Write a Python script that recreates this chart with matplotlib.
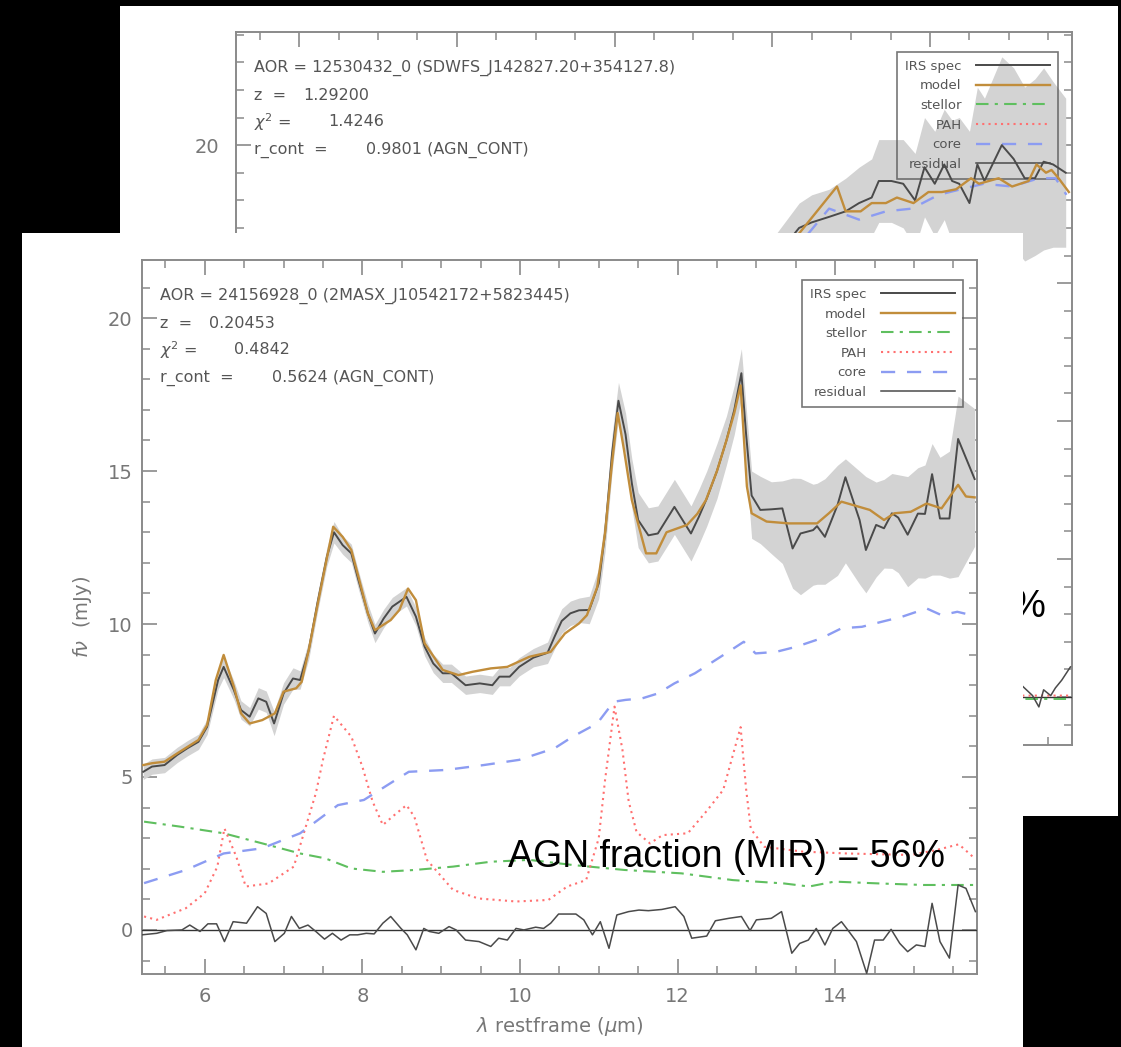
import matplotlib
matplotlib.use('Agg')
import matplotlib.pyplot as plt
from matplotlib.patches import Rectangle
from matplotlib.ticker import MultipleLocator, FuncFormatter, NullFormatter

W, H = 1121, 1047

# ---------------- front panel data ----------------
front_spec_x = [5.22, 5.33, 5.49, 5.65, 5.78, 5.92, 6.03, 6.17, 6.24, 6.37, 6.46, 6.57, 6.68, 6.78,
                6.88, 7.00, 7.12, 7.21, 7.32, 7.43, 7.55, 7.64, 7.75, 7.86, 7.95, 8.07, 8.16, 8.27,
                8.38, 8.56, 8.68, 8.79, 8.90, 9.02, 9.13, 9.31, 9.49, 9.65, 9.74, 9.87, 9.99, 10.17,
                10.35, 10.44, 10.53, 10.64, 10.75, 10.88, 11.00, 11.08, 11.17, 11.25, 11.34, 11.42,
                11.50, 11.63, 11.75, 11.96, 12.17, 12.27, 12.37, 12.50, 12.62, 12.72, 12.81, 12.87,
                12.94, 13.05, 13.19, 13.33, 13.46, 13.56, 13.72, 13.77, 13.87, 14.03, 14.13, 14.31,
                14.39, 14.52, 14.62, 14.72, 14.80, 14.92, 15.05, 15.14, 15.23, 15.33, 15.45, 15.56,
                15.77]
front_spec_y = [5.17, 5.34, 5.39, 5.72, 5.94, 6.15, 6.64, 8.17, 8.60, 7.84, 7.19, 6.97, 7.57, 7.46,
                6.75, 7.73, 8.22, 8.17, 9.15, 10.68, 12.20, 13.00, 12.58, 12.31, 11.44, 10.35, 9.69,
                10.18, 10.57, 10.89, 10.24, 9.26, 8.71, 8.39, 8.39, 8.00, 8.06, 8.00, 8.28, 8.28,
                8.60, 8.90, 9.06, 9.59, 10.10, 10.35, 10.45, 10.46, 11.33, 12.97, 15.60, 17.30,
                16.20, 14.60, 13.40, 12.90, 12.96, 13.83, 12.96, 13.50, 14.10, 15.00, 16.00, 17.00,
                18.20, 16.20, 14.20, 13.73, 13.75, 13.78, 12.47, 12.96, 13.07, 13.20, 12.85, 13.89,
                14.80, 13.40, 12.42, 13.24, 13.13, 13.62, 13.48, 12.92, 13.61, 13.60, 14.90, 13.45,
                13.45, 16.05, 14.74]
# uncertainty band: distance below / above the spectrum
front_err_lo = [0.25, 0.25, 0.25, 0.25, 0.25, 0.25, 0.25, 0.30, 0.35, 0.30, 0.30, 0.30, 0.35, 0.35,
                0.40, 0.35, 0.35, 0.30, 0.30, 0.30, 0.30, 0.35, 0.30, 0.30, 0.30, 0.30, 0.30, 0.30,
                0.30, 0.30, 0.30, 0.30, 0.30, 0.30, 0.30, 0.30, 0.30, 0.30, 0.30, 0.30, 0.30, 0.30,
                0.35, 0.40, 0.40, 0.40, 0.40, 0.45, 0.50, 0.60, 0.60, 0.60, 0.70, 0.80, 0.90, 0.90,
                0.90, 0.90, 0.90, 0.90, 0.90, 0.90, 0.80, 0.80, 0.80, 1.00, 1.40, 1.10, 1.45, 1.80,
                1.30, 2.00, 1.80, 1.90, 1.55, 2.30, 2.80, 2.10, 1.40, 1.70, 1.30, 1.80, 1.80, 1.70,
                2.10, 2.10, 3.30, 1.85, 1.95, 4.50, 2.20]
front_err_hi = [0.25, 0.25, 0.25, 0.25, 0.25, 0.25, 0.25, 0.30, 0.35, 0.30, 0.30, 0.30, 0.35, 0.35,
                0.40, 0.35, 0.35, 0.30, 0.30, 0.30, 0.30, 0.35, 0.30, 0.30, 0.30, 0.30, 0.30, 0.30,
                0.30, 0.30, 0.30, 0.30, 0.30, 0.30, 0.30, 0.30, 0.30, 0.30, 0.30, 0.30, 0.30, 0.30,
                0.35, 0.40, 0.40, 0.40, 0.40, 0.45, 0.50, 0.60, 0.60, 0.60, 0.70, 0.80, 0.90, 0.90,
                0.90, 0.90, 0.90, 0.90, 0.90, 0.90, 0.80, 0.80, 0.80, 0.90, 0.80, 1.10, 0.90, 0.90,
                2.30, 1.80, 1.50, 1.40, 1.90, 1.30, 0.60, 1.60, 2.40, 1.40, 1.60, 1.30, 1.40, 1.90,
                1.50, 1.60, 1.00, 2.00, 2.20, 1.40, 2.30]

front_model_x = [5.22, 5.33, 5.49, 5.65, 5.92, 6.03, 6.14, 6.24, 6.37, 6.46, 6.57, 6.73, 6.89, 7.00,
                 7.16, 7.23, 7.32, 7.46, 7.63, 7.75, 7.86, 7.95, 8.07, 8.16, 8.36, 8.47, 8.58, 8.68,
                 8.79, 9.02, 9.22, 9.40, 9.63, 9.84, 10.12, 10.39, 10.57, 10.75, 10.85, 10.98, 11.08,
                 11.17, 11.24, 11.32, 11.42, 11.60, 11.73, 11.86, 12.12, 12.25, 12.36, 12.50, 12.62,
                 12.72, 12.80, 12.88, 12.94, 13.13, 13.41, 13.77, 13.92, 14.08, 14.44, 14.62, 14.75,
                 14.96, 15.16, 15.35, 15.56, 15.66, 15.77]
front_model_y = [5.39, 5.45, 5.50, 5.77, 6.21, 6.70, 8.17, 8.99, 7.95, 7.08, 6.75, 6.86, 7.08, 7.79,
                 7.90, 8.11, 9.15, 11.00, 13.18, 12.85, 12.42, 11.55, 10.35, 9.80, 10.13, 10.46, 11.16,
                 10.78, 9.37, 8.50, 8.33, 8.44, 8.55, 8.60, 8.93, 9.09, 9.69, 10.02, 10.29, 11.20,
                 12.97, 15.30, 16.90, 15.70, 14.05, 12.31, 12.31, 13.00, 13.24, 13.60, 14.05, 15.00,
                 16.00, 16.90, 17.80, 14.50, 13.62, 13.35, 13.29, 13.29, 13.62, 14.00, 13.73, 13.40,
                 13.62, 13.67, 13.94, 13.78, 14.55, 14.17, 14.14]

front_stellar_x = [5.23, 5.68, 6.24, 6.73, 7.21, 7.53, 7.86, 8.26, 8.66, 9.15, 9.63, 10.12, 10.68,
                   11.33, 12.05, 12.70, 13.35, 13.67, 13.99, 14.56, 15.12, 15.77]
front_stellar_y = [3.54, 3.38, 3.16, 2.83, 2.50, 2.34, 2.01, 1.90, 1.96, 2.07, 2.23, 2.29, 2.12,
                   1.96, 1.85, 1.63, 1.52, 1.42, 1.58, 1.52, 1.47, 1.47]

front_pah_x = [5.23, 5.39, 5.76, 6.00, 6.16, 6.25, 6.40, 6.52, 6.81, 7.13, 7.41, 7.50, 7.64, 7.86,
               8.00, 8.13, 8.26, 8.38, 8.56, 8.66, 8.82, 9.15, 9.47, 9.95, 10.36, 10.60, 10.84,
               11.00, 11.08, 11.20, 11.30, 11.38, 11.48, 11.65, 11.81, 12.13, 12.38, 12.58, 12.80,
               12.87, 12.93, 13.10, 13.59, 14.15, 14.96, 15.28, 15.57, 15.77]
front_pah_y = [0.44, 0.33, 0.71, 1.20, 2.07, 3.32, 2.40, 1.42, 1.52, 2.07, 4.47, 5.56, 7.00, 6.32,
               5.34, 4.20, 3.43, 3.70, 4.08, 3.70, 2.29, 1.31, 1.03, 0.93, 0.98, 1.42, 1.63,
               3.00, 4.90, 7.30, 5.90, 4.20, 3.20, 2.83, 3.10, 3.16, 3.92, 4.58, 6.63,
               4.60, 3.30, 2.72, 2.56, 2.50, 2.45, 2.61, 2.80, 2.34]

front_core_x = [5.23, 5.76, 6.24, 6.73, 7.21, 7.69, 8.02, 8.42, 8.59, 9.06, 9.54, 9.99, 10.44, 10.67,
                10.98, 11.19, 11.34, 11.55, 11.75, 11.96, 12.22, 12.48, 12.68, 12.84, 12.99, 13.25,
                13.51, 13.82, 14.08, 14.34, 14.60, 14.85, 15.16, 15.35, 15.55, 15.73]
front_core_y = [1.53, 1.96, 2.50, 2.67, 3.16, 4.08, 4.25, 4.90, 5.17, 5.23, 5.39, 5.56, 5.94, 6.32,
                6.75, 7.46, 7.52, 7.57, 7.73, 8.06, 8.39, 8.82, 9.15, 9.42, 9.04, 9.09,
                9.26, 9.53, 9.86, 9.91, 10.08, 10.24, 10.51, 10.29, 10.40, 10.29]

front_res_x = [5.20, 5.39, 5.52, 5.71, 5.81, 5.94, 6.04, 6.15, 6.25, 6.36, 6.53, 6.67, 6.78, 6.89,
               7.01, 7.10, 7.20, 7.31, 7.41, 7.52, 7.62, 7.73, 7.84, 7.94, 8.05, 8.15, 8.26, 8.36,
               8.49, 8.57, 8.68, 8.78, 8.85, 8.97, 9.10, 9.19, 9.31, 9.48, 9.63, 9.73, 9.84, 9.95,
               10.05, 10.20, 10.30, 10.39, 10.49, 10.71, 10.81, 10.92, 11.02, 11.13, 11.23, 11.38,
               11.51, 11.63, 11.80, 11.97, 12.08, 12.18, 12.37, 12.48, 12.65, 12.81, 12.92, 13.00,
               13.19, 13.32, 13.45, 13.55, 13.66, 13.76, 13.87, 13.97, 14.08, 14.16, 14.27, 14.40,
               14.50, 14.61, 14.71, 14.82, 14.92, 15.03, 15.14, 15.23, 15.33, 15.45, 15.56, 15.66,
               15.78]
front_res_y = [-0.16, -0.11, -0.02, 0.00, 0.16, -0.05, 0.20, 0.20, -0.38, 0.27, 0.22, 0.76, 0.54,
               -0.38, -0.11, 0.44, 0.05, 0.16, -0.05, -0.30, -0.11, -0.33, -0.16, -0.16, -0.11,
               -0.13, 0.22, 0.44, 0.05, -0.16, -0.65, 0.05, -0.05, -0.11, 0.11, 0.00, -0.33, -0.38,
               -0.54, -0.27, -0.33, 0.05, 0.00, 0.09, 0.05, 0.22, 0.52, 0.52, 0.33, -0.16, 0.27,
               -0.60, 0.49, 0.60, 0.65, 0.63, 0.67, 0.76, 0.44, -0.27, -0.20, 0.30, 0.38, 0.44,
               -0.02, 0.33, 0.38, 0.60, -0.76, -0.44, -0.33, 0.05, -0.49, 0.05, 0.27, 0.00, -0.38,
               -1.42, -0.33, -0.33, 0.02, -0.44, -0.71, -0.49, -0.54, 0.87, -0.38, -0.92, 1.47,
               1.36, 0.60]

front_info = ["AOR = 24156928_0 (2MASX_J10542172+5823445)", "0.20453", "0.4842", "0.5624 (AGN_CONT)"]
front_fraction = "AGN fraction (MIR) = 56%"

# ---------------- back panel data (partly hidden) ----------------
back_spec_x = [12.00, 12.34, 12.50, 12.72, 12.93, 13.10, 13.26, 13.35, 13.51, 13.66, 13.81, 13.93,
               14.06, 14.18, 14.28, 14.37, 14.50, 14.60, 14.69, 14.91, 15.06, 15.20, 15.33, 15.44,
               15.56, 15.72]
back_spec_y = [15.8, 17.0, 17.2, 17.4, 17.6, 17.9, 18.1, 18.7, 18.7, 18.6, 18.0, 19.2, 18.6, 19.3,
               18.7, 18.6, 17.9, 19.3, 18.7, 20.0, 19.5, 18.8, 18.8, 19.4, 19.3, 19.0]
back_err_lo = [0.8, 0.9, 1.0, 1.0, 1.2, 1.3, 1.4, 1.5, 1.5, 1.6, 1.7, 1.8, 1.9, 2.0, 2.2, 2.4,
               2.6, 2.8, 3.0, 3.2, 3.2, 3.0, 2.8, 3.2, 3.0, 2.7]
back_err_hi = [0.8, 0.9, 1.0, 1.0, 1.2, 1.3, 1.4, 1.5, 1.5, 1.6, 1.7, 1.8, 1.9, 2.0, 2.2, 2.4,
               2.6, 2.8, 3.0, 3.2, 3.3, 3.3, 3.6, 3.4, 3.0, 2.7]
back_model_x = [12.00, 12.34, 12.82, 12.93, 13.12, 13.26, 13.44, 13.58, 13.79, 13.98, 14.15, 14.33,
                14.52, 14.62, 14.87, 15.04, 15.25, 15.35, 15.47, 15.54, 15.63, 15.76]
back_model_y = [15.6, 16.8, 18.5, 17.6, 17.6, 17.9, 17.9, 18.1, 17.9, 18.3, 18.3, 18.4, 18.8, 18.6,
                18.8, 18.5, 18.7, 19.3, 19.0, 19.1, 18.8, 18.3]
back_core_x = [12.00, 12.40, 12.72, 13.10, 13.44, 13.77, 14.11, 14.39, 14.68, 15.04, 15.38, 15.59, 15.73]
back_core_y = [15.4, 16.6, 17.7, 17.3, 17.6, 17.7, 18.2, 18.4, 18.6, 18.5, 18.8, 18.8, 18.2]
back_stellar_x = [12.00, 13.50, 15.00, 15.80]
back_stellar_y = [-0.05, -0.06, -0.07, -0.07]
back_pah_x = [12.00, 13.50, 15.00, 15.80]
back_pah_y = [0.08, 0.06, 0.05, 0.05]
back_res_x = [12.00, 12.34, 12.72, 13.10, 13.51, 13.93, 14.18, 14.50, 14.91, 15.17, 15.30, 15.38,
              15.44, 15.53, 15.59, 15.67, 15.78]
back_res_y = [0.2, 0.2, -0.1, 0.0, 0.6, 0.9, 1.0, -0.3, 1.3, 0.4, 0.05, -0.36, 0.26, 0.05, 0.33,
              0.61, 1.09]

back_info = ["AOR = 12530432_0 (SDWFS_J142827.20+354127.8)", "1.29200", "1.4246", "0.9801 (AGN_CONT)"]
back_fraction = "AGN fraction (MIR) = 98%"

labels = ["IRS spec", "model", "stellor", "PAH", "core", "residual"]

AX_GRAY = '#8a8a8a'
TXT_GRAY = '#555555'
LBL_GRAY = '#777777'


def draw_panel(ax, sx, sy, elo, ehi, mx, my, stx, sty, px, py, cx, cy, rx, ry, info, ylim,
               ypad, w_px, h_px, show_labels=True):
    lo = [a - b for a, b in zip(sy, elo)]
    hi = [a + b for a, b in zip(sy, ehi)]
    ax.fill_between(sx, lo, hi, color='#d3d3d3', lw=0, zorder=2)
    ax.axhline(0, color='#333333', lw=1.0, zorder=3)
    h1, = ax.plot(sx, sy, color='#4a4a4a', lw=1.4, zorder=4, label=labels[0])
    h2, = ax.plot(mx, my, color='#c18d3b', lw=1.7, zorder=5, label=labels[1])
    h3, = ax.plot(stx, sty, color='#5fbf5f', lw=1.5, ls=(0, (6, 3, 1.5, 3)), zorder=3, label=labels[2])
    h4, = ax.plot(px, py, color='#ff7070', lw=1.5, ls=(0, (1, 2)), zorder=3, label=labels[3])
    h5, = ax.plot(cx, cy, color='#8c9cf2', lw=1.7, ls=(0, (6, 5)), zorder=3, label=labels[4])
    h6, = ax.plot(rx, ry, color='#4a4a4a', lw=1.1, zorder=4, label=labels[5])

    ax.set_xlim(5.2, 15.8)
    ax.set_ylim(*ylim)
    ax.xaxis.set_major_locator(MultipleLocator(2))
    ax.xaxis.set_minor_locator(MultipleLocator(0.5))
    ax.yaxis.set_major_locator(MultipleLocator(5))
    ax.yaxis.set_minor_locator(MultipleLocator(1))
    ax.tick_params(which='both', direction='in', top=True, right=True, color=AX_GRAY,
                   labelcolor=LBL_GRAY, labelsize=14)
    ax.tick_params(which='major', length=11, width=1.2)
    ax.tick_params(which='minor', length=5.5, width=1.1)
    ax.tick_params(axis='y', pad=ypad)
    ax.tick_params(axis='x', pad=9)
    for s in ax.spines.values():
        s.set_color(AX_GRAY)
        s.set_linewidth(1.4)
    if show_labels:
        ax.set_xlabel(r'$\lambda$ restframe ($\mu$m)', fontsize=14, color=LBL_GRAY)
        ax.set_ylabel(r'$f\nu$  (mJy)', fontsize=14, color=LBL_GRAY)
        ax.xaxis.set_label_coords(0.5, -0.058)
        ax.yaxis.set_label_coords(-0.057, 0.5)

    def axpos(dx, dy):
        return dx / w_px, 1 - dy / h_px
    kw = dict(transform=ax.transAxes, fontsize=11.5, color=TXT_GRAY, va='center', ha='left', zorder=6)
    ax.text(*axpos(18.3, 36), info[0], **kw)
    ax.text(*axpos(18.3, 63), 'z  =', **kw)
    ax.text(*axpos(67.3, 63), info[1], **kw)
    ax.text(*axpos(18.3, 90), r'$\chi^2$ =', **kw)
    ax.text(*axpos(92.3, 90), info[2], **kw)
    ax.text(*axpos(18.3, 118), 'r_cont  =', **kw)
    ax.text(*axpos(130.3, 118), info[3], **kw)

    leg = ax.legend(handles=[h1, h2, h3, h4, h5, h6], loc='upper right',
                    bbox_to_anchor=(0.983, 0.972), borderaxespad=0, markerfirst=False,
                    fontsize=9.5, handlelength=5.6, handletextpad=1.1, labelspacing=0.5,
                    borderpad=0.6, fancybox=False, frameon=True)
    leg.get_frame().set_edgecolor('#555555')
    leg.get_frame().set_linewidth(1.2)
    leg.get_frame().set_facecolor('none')
    for t in leg.get_texts():
        t.set_color(TXT_GRAY)
    leg.set_zorder(2.5)


fig = plt.figure(figsize=(W / 100, H / 100), dpi=100, facecolor='black')


def rect_fig(x0, y0, x1, y1):
    return [x0 / W, 1 - y1 / H, (x1 - x0) / W, (y1 - y0) / H]


# back card (mostly covered by the front card)
fig.add_artist(Rectangle((120 / W, 1 - 816 / H), (1118 - 120) / W, (816 - 6) / H,
                         transform=fig.transFigure, facecolor='white', edgecolor='none', zorder=0.1))
ax_back = fig.add_axes(rect_fig(236, 32, 1072, 745), zorder=1)
ax_back.set_facecolor('white')
draw_panel(ax_back, back_spec_x, back_spec_y, back_err_lo, back_err_hi, back_model_x, back_model_y,
           back_stellar_x, back_stellar_y, back_pah_x, back_pah_y, back_core_x, back_core_y,
           back_res_x, back_res_y, back_info, (-1.74, 24.1), 12, 836, 713, show_labels=False)
ax_back.xaxis.set_major_formatter(NullFormatter())
ax_back.yaxis.set_major_formatter(FuncFormatter(lambda v, p: '20' if abs(v - 20) < 1e-6 else ''))
fig.text(1046 / W, 1 - 607 / H, back_fraction, fontsize=27, family='Liberation Sans',
         color='black', ha='right', va='center', zorder=1.5)

# front card
fig.add_artist(Rectangle((22 / W, 0), (1023 - 22) / W, (1047 - 233) / H,
                         transform=fig.transFigure, facecolor='white', edgecolor='none', zorder=2))
ax_front = fig.add_axes(rect_fig(141.7, 260, 977, 974), zorder=3)
ax_front.set_facecolor('white')
draw_panel(ax_front, front_spec_x, front_spec_y, front_err_lo, front_err_hi, front_model_x,
           front_model_y, front_stellar_x, front_stellar_y, front_pah_x, front_pah_y,
           front_core_x, front_core_y, front_res_x, front_res_y, front_info, (-1.44, 21.9),
           6.5, 835.3, 714)
fig.text(945 / W, 1 - 857 / H, front_fraction, fontsize=27, family='Liberation Sans',
         color='black', ha='right', va='center', zorder=4)

fig.savefig('out.png', dpi=100, facecolor='black')
